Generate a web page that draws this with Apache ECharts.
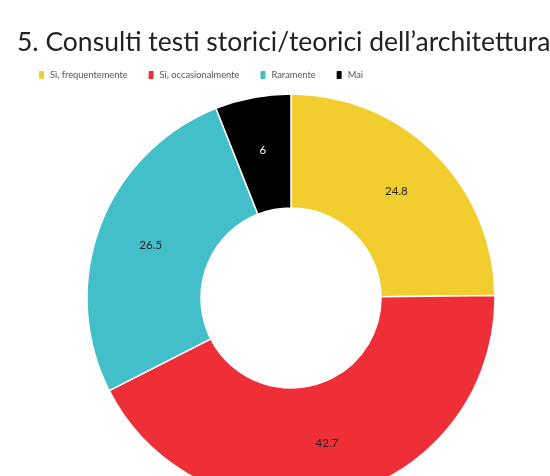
<!DOCTYPE html>
<html><head><meta charset="utf-8">
<script src="https://cdn.jsdelivr.net/npm/echarts@6/dist/echarts.min.js"></script>
<style>html,body{margin:0;padding:0;background:#fff}#c{width:550px;height:476px}</style>
</head><body><div id="c"></div>
<script>
const categories = ['Sì, frequentemente', 'Sì, occasionalmente', 'Raramente', 'Mai'];
const values = [24.8, 42.7, 26.5, 6];
const colors = ['#F2CD2E', '#EE2F38', '#43BFCA', '#000000'];
const labelColors = ['#222', '#222', '#222', '#fff'];

const chart = echarts.init(document.getElementById('c'));
chart.setOption({
  animation: false,
  title: {
    text: '5. Consulti testi storici/teorici dell\u2019architettura',
    left: 12, top: 24,
    textStyle: { fontFamily: 'Lato', fontSize: 26.5, fontWeight: 'normal', color: '#222' }
  },
  legend: {
    left: 32, top: 64,
    itemWidth: 7, itemHeight: 10, itemGap: 19,
    icon: 'roundRect',
    textStyle: { fontFamily: 'Lato', fontSize: 9.3, color: '#555' },
    data: categories
  },
  series: [{
    type: 'pie',
    center: [291, 298],
    radius: [90, 204],
    startAngle: 90,
    clockwise: true,
    itemStyle: { borderColor: '#fff', borderWidth: 1.5 },
    label: { position: 'inside', fontFamily: 'Lato', fontSize: 11.5, formatter: '{c}' },
    labelLine: { show: false },
    data: categories.map((n, i) => ({
      name: n, value: values[i],
      itemStyle: { color: colors[i] },
      label: { color: labelColors[i] }
    }))
  }]
});
</script></body></html>
